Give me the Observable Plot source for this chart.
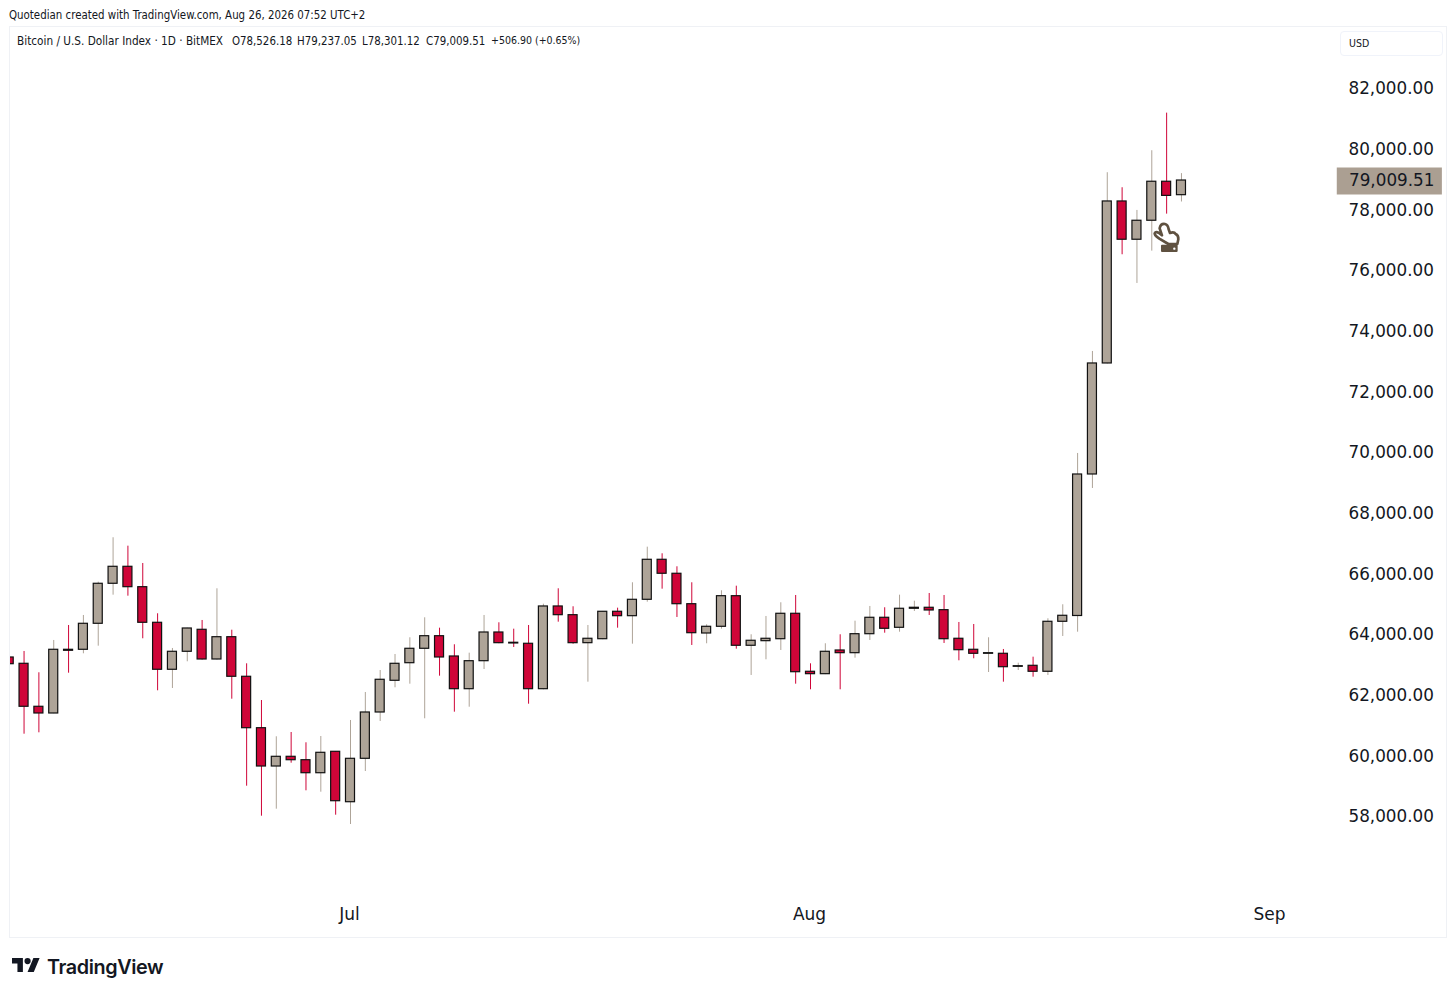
<!DOCTYPE html>
<html><head><meta charset="utf-8">
<script src="https://cdn.jsdelivr.net/npm/d3@7"></script>
<script src="https://cdn.jsdelivr.net/npm/@observablehq/plot@0.6"></script>
<style>
html,body{margin:0;padding:0;background:#fff;width:1456px;height:995px;overflow:hidden}
#wrap{position:relative;width:1456px;height:995px}
#wrap svg{position:absolute;left:0;top:0}
.t{position:absolute;white-space:nowrap;color:#131722;font-family:"DejaVu Sans Condensed","DejaVu Sans",sans-serif}
#frame{position:absolute;left:9px;top:26px;width:1436px;height:910px;border:1px solid #eff1f5}
#usd{position:absolute;left:1340px;top:31px;width:101px;height:23px;border:1px solid #f0f3fa;border-radius:4px}
</style></head><body><div id="wrap">
<div id="frame"></div><div id="usd"></div>
</div>
<script>
const firstDay = "2026-06-08", dayAfterLast = "2026-08-27";
const open = [63285,63077,61660,61439,63539,63539,64396,65715,66275,65603,64429,62880,63473,64198,63219,63954,62649,60954,59691,60011,59899,59470,60176,58514,59945,61472,62517,63097,63572,63987,63318,62240,63163,64109,63770,63737,62240,64967,64680,63757,63888,64792,64647,65187,66506,66045,65042,64076,64297,65306,63671,63823,63888,64726,62814,62735,63516,63427,64053,64594,64264,64891,64924,64845,63902,63539,63407,63407,62978,63011,62814,64462,64653,69318,72978,78319,77057,77683,78969,78526.18];
const high = [63320,63483,62781,63846,64340,64670,65768,67232,66955,66384,64726,63582,64251,64505,65550,64185,63077,61867,60671,60812,60473,60680,60180,61208,62131,62856,63384,63935,64594,64251,63704,63427,64670,64429,64218,64340,65042,65550,64957,64340,64802,64911,65748,66922,66704,66275,65748,64363,65484,65636,64034,64637,65089,65329,63077,63737,64034,64482,64967,64924,65339,65141,65395,65329,64439,64373,63935,63549,63097,63295,64561,65023,70011,73374,79266,78771,78023,79991,81231,79237.05];
const low = [63040,60756,60802,61430,62767,63407,63658,65339,65306,63902,62187,62263,63143,63200,63200,61910,59042,58053,58284,59800,58890,58844,58086,57779,59526,61175,62286,62405,61264,62669,61482,61646,62889,63740,63615,61745,62220,64449,63724,62471,63870,64251,63724,65108,65537,64604,63681,63737,64218,63559,62692,63209,63516,62405,62220,62720,62220,63262,63846,64086,64119,64802,64670,63747,63176,63242,62790,62471,62856,62636,62692,63977,64119,68857,72960,76562,75616,76681,77901,78301.12];
const close = [63064,61660,61439,63539,63506,64396,65715,66275,65603,64429,62880,63473,64241,63219,63954,62649,60954,59691,60011,59899,59470,60143,58547,59945,61472,62550,63077,63572,63987,63285,62240,63163,64109,63757,63747,62240,64967,64680,63757,63902,64792,64647,65187,66506,66045,65042,64086,64297,65306,63671,63836,63902,64726,62800,62735,63473,63427,64053,64594,64231,64891,64924,64835,63888,63526,63407,63427,62965,62998,62814,64462,64660,69318,72978,78319,77057,77683,78969,78502.61,79009.51];
const priceTicks = [58000,60000,62000,64000,66000,68000,70000,72000,74000,76000,78000,80000,82000];
const monthTicks = ["2026-07-01","2026-08-01","2026-09-01"].map(d => new Date(d));
const days = d3.utcDay.range(new Date(firstDay), new Date(dayAfterLast));
const candles = days.map((date,i)=>({date,open:open[i],high:high[i],low:low[i],close:close[i]}));
const last = candles[candles.length-1];

const RED="#cf0538", TAN="#aea498", INK="#111111", TAG="#ab9f92";
const col = d => d.close < d.open ? RED : TAN;
const fmt = d3.format(",.2f");
const AX = `"DejaVu Sans",sans-serif`;
const hours = (d,h)=>new Date(+d + h*3600e3);

const chart = Plot.plot({
  width:1456, height:995,
  marginLeft:10, marginRight:116, marginTop:27, marginBottom:90,
  style:{background:"transparent",overflow:"visible"},
  x:{type:"utc",domain:[new Date("2026-07-01"),new Date("2026-09-01")],range:[350,1270]},
  y:{type:"linear",domain:[58000,82000],range:[817.3,89.3]},
  marks:[
    Plot.ruleX(candles,{x:"date",y1:"low",y2:"high",stroke:col,strokeWidth:1,clip:"frame"}),
    Plot.rect(candles,{
      x1:d=>hours(d.date,-7.3), x2:d=>hours(d.date,7.3),
      y1:"open", y2:"close", fill:col, stroke:INK, strokeWidth:1.2, clip:"frame"}),
    Plot.axisY({anchor:"right",ticks:priceTicks,tickSize:0,tickPadding:8,tickFormat:fmt,label:null,
      fontSize:16.8,fontFamily:AX,fill:"#131722",dy:-0.9}),
    Plot.axisX({anchor:"bottom",ticks:monthTicks,tickSize:0,tickPadding:2,tickFormat:d3.utcFormat("%b"),label:null,
      fontSize:17,fontFamily:AX,fill:"#131722",dx:-1}),
    Plot.ruleY([last],{y:"close",x1:()=>new Date("2026-09-05T12:00Z"),x2:()=>new Date("2026-09-12T14:00Z"),stroke:TAG,strokeWidth:27,clip:false,dy:0.5}),
    Plot.text([last],{y:"close",x:()=>new Date("2026-09-06T07:00Z"),text:d=>fmt(d.close),textAnchor:"start",fontSize:16.8,fontFamily:AX,fill:"#131722",dy:0.3})
  ]
});
const wrap=document.getElementById("wrap");
wrap.insertBefore(chart, wrap.firstChild);

function addText(s,l,t,size,extra){const e=document.createElement("div");e.className="t";e.textContent=s;e.style.left=l+"px";e.style.top=t+"px";e.style.fontSize=size+"px";if(extra)Object.assign(e.style,extra);wrap.appendChild(e);}
addText("Quotedian created with TradingView.com, Aug 26, 2026 07:52 UTC+2",9,7.5,11.4);
addText("Bitcoin / U.S. Dollar Index · 1D · BitMEX",17,33.5,11.7);
addText("O78,526.18",232,33.5,11.4);
addText("H79,237.05",297,33.5,11.4);
addText("L78,301.12",362,33.5,11.4);
addText("C79,009.51",426,33.5,11.4);
addText("+506.90 (+0.65%)",491,34,10.5);
addText("USD",1349,36.5,10.5);
addText("TradingView",47,955,19.8,{fontFamily:'Inter,Roboto,sans-serif',fontWeight:600,letterSpacing:"-0.4px"});

const ov=document.createElement("div");
ov.innerHTML=`<svg width="1456" height="995" style="position:absolute;left:0;top:0;pointer-events:none">
<g transform="translate(12,954.9) scale(.778)" fill="#131722"><path d="M14 22H7V11H0V4h14v18zM28 22h-8l7.5-18h8L28 22z"/><circle cx="20" cy="8" r="4"/></g>
<g transform="translate(1040,100) scale(.3333)">
<path d="M385 432 L358 416 Q340 404 345 398 Q352 392 366 406 L359 385 Q362 370 375 372 Q384 374 386 388 L390 399 Q402 394 407 402 Q416 406 415 418 L412 432 Z" fill="#fff" stroke="#5f5140" stroke-width="8" stroke-linejoin="round"/>
<rect x="363" y="434" width="50" height="22" rx="3" fill="#5f5140"/><circle cx="403" cy="446" r="3.5" fill="#fff"/>
</g></svg>`;
wrap.appendChild(ov);
</script></body></html>
